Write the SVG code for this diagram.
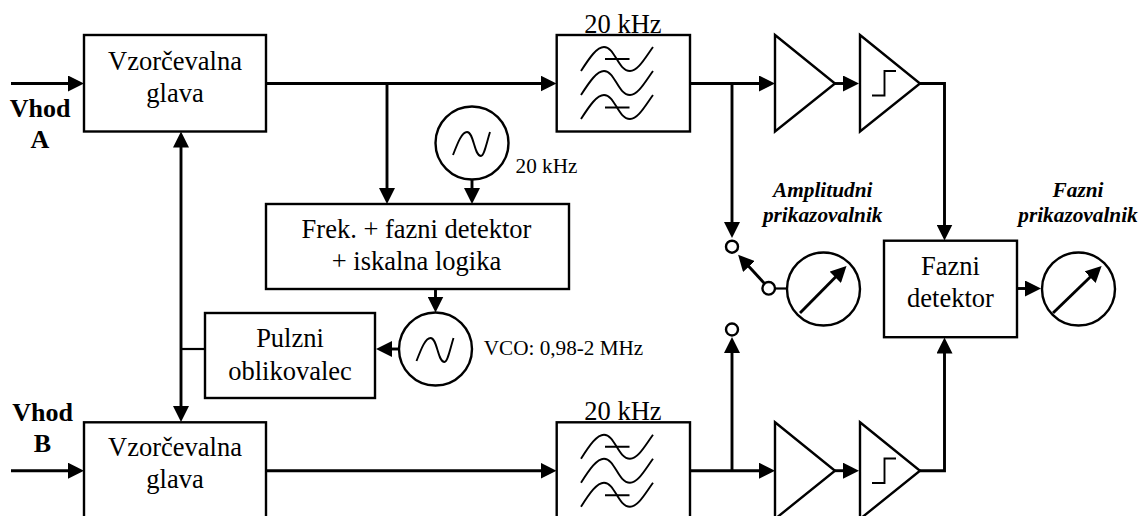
<svg xmlns="http://www.w3.org/2000/svg" width="1141" height="516" viewBox="0 0 1141 516">
<style>
text{font-family:"Liberation Serif","Times New Roman",serif;fill:#000;text-anchor:middle}
.t{font-size:26.5px}
.s{font-size:21.2px}
.b{font-size:26px;font-weight:bold}
.i{font-size:21.3px;font-weight:bold;font-style:italic}
.sh{fill:#fff;stroke:#000;stroke-width:2.4}
.c{fill:none;stroke:#000;stroke-width:2.9}
.th{fill:none;stroke:#000;stroke-width:2.2}
.w{fill:none;stroke:#000;stroke-width:1.9}
</style>
<defs>
<marker id="a" markerUnits="userSpaceOnUse" markerWidth="16" markerHeight="16" viewBox="0 0 16 16" refX="11" refY="8" orient="auto"><polygon points="0,0 16,8 0,16" fill="#000"/></marker>
<path id="sine" d="M581 71C590 57 597 47 604 47C615 47 618 71 630 71C638 71 645 58 653 47"/>
<path id="osc" d="M0 23C5 10 9 0 14 0C21 0 21 24 28 24C31 24 33 13 37 0"/>
</defs>
<g id="connectors">
<path class="c" d="M11 83.5H79" marker-end="url(#a)"/>
<path class="c" d="M11 470.700H79" marker-end="url(#a)"/>
<path class="c" d="M266 83.500H551.500" marker-end="url(#a)"/>
<path class="c" d="M266 470.700H551.500" marker-end="url(#a)"/>
<path class="c" d="M387 83.500V199" marker-end="url(#a)"/>
<path class="c" d="M472 179V199" marker-end="url(#a)"/>
<path class="c" d="M435.500 289V307.500" marker-end="url(#a)"/>
<path class="c" d="M399 349H381" marker-end="url(#a)"/>
<path class="c" d="M181 349V136.500" marker-end="url(#a)"/>
<path class="c" d="M181 349V417" marker-end="url(#a)"/>
<path class="th" d="M181 349H205"/>
<path class="c" d="M690 83.500H770" marker-end="url(#a)"/>
<path class="c" d="M690 470.700H770" marker-end="url(#a)"/>
<path class="c" d="M835 83.500H854" marker-end="url(#a)"/>
<path class="c" d="M835 470.700H854" marker-end="url(#a)"/>
<path class="c" d="M732 83.500V233" marker-end="url(#a)"/>
<path class="c" d="M732 470.700V342" marker-end="url(#a)"/>
<path class="c" d="M920 83.500H944.500V235.500" marker-end="url(#a)"/>
<path class="c" d="M920 470.700H944.500V342.500" marker-end="url(#a)"/>
<path class="c" d="M1017 288.500H1036" marker-end="url(#a)"/>
<path class="c" d="M764.500 283.500L741.500 258.500" marker-end="url(#a)"/>
<path class="th" d="M775 288.500H787"/>
</g>
<g id="vhod-a"><text class="b" x="40" y="116.700">Vhod</text><text class="b" x="40" y="148">A</text></g>
<g id="vhod-b"><text class="b" x="42.500" y="420.700">Vhod</text><text class="b" x="42.500" y="451.700">B</text></g>
<g id="glava-a"><rect class="sh" x="84" y="35" width="182" height="96.500"/><text class="t" x="175" y="70">Vzorčevalna</text><text class="t" x="175" y="102">glava</text></g>
<g id="glava-b"><rect class="sh" x="84" y="422.300" width="182" height="97"/><text class="t" x="175" y="456">Vzorčevalna</text><text class="t" x="175" y="487.500">glava</text></g>
<g id="filter-a"><rect class="sh" x="556.700" y="35" width="133.300" height="96.500"/><text class="t" x="623" y="32.500">20 kHz</text>
<use href="#sine" class="w"/><use href="#sine" class="w" y="24"/><use href="#sine" class="w" y="48"/><path class="w" d="M605 59H629.500M605 107.500H629.500"/></g>
<g id="filter-b"><rect class="sh" x="556.700" y="422.300" width="133.300" height="97"/><text class="t" x="623" y="420">20 kHz</text>
<g transform="translate(0 387.700)"><use href="#sine" class="w"/><use href="#sine" class="w" y="24"/><use href="#sine" class="w" y="48"/><path class="w" d="M605 59H629.500M605 107.500H629.500"/></g></g>
<g id="amp-a"><polygon class="sh" points="775,35 835,83.500 775,131.500"/></g>
<g id="lim-a"><polygon class="sh" points="860,35 920,83.500 860,131.500"/><path class="w" d="M872 95.500H884.500V71H896"/></g>
<g id="amp-b"><polygon class="sh" points="775,422.300 835,470.700 775,519"/></g>
<g id="lim-b"><polygon class="sh" points="860,422.300 920,470.700 860,519"/><path class="w" d="M872 483H884.500V458.500H896"/></g>
<g id="osc-20"><circle class="sh" cx="472" cy="143" r="36.500"/><use href="#osc" class="w" x="453" y="132"/><text class="s" x="546.500" y="173">20 kHz</text></g>
<g id="vco"><circle class="sh" cx="435.500" cy="349" r="36.500"/><use href="#osc" class="w" x="416.500" y="338"/><text class="s" x="563.500" y="355">VCO: 0,98-2 MHz</text></g>
<g id="detektor"><rect class="sh" x="266" y="204" width="303" height="85"/><text class="t" x="416.500" y="238">Frek. + fazni detektor</text><text class="t" x="416.500" y="270">+ iskalna logika</text></g>
<g id="pulzni"><rect class="sh" x="205" y="313" width="170" height="85"/><text class="t" x="290" y="347">Pulzni</text><text class="t" x="290" y="380">oblikovalec</text></g>
<g id="fazni-det"><rect class="sh" x="884" y="240.700" width="133" height="96.500"/><text class="t" x="950.500" y="275">Fazni</text><text class="t" x="950.500" y="306.700">detektor</text></g>
<g id="sw-1"><circle class="sh" cx="732" cy="246.700" r="6"/></g>
<g id="sw-2"><circle class="sh" cx="732" cy="329.500" r="6"/></g>
<g id="sw-p"><circle class="sh" cx="768.700" cy="288.300" r="6.300"/></g>
<g id="meter-a"><circle class="sh" cx="823.500" cy="289" r="36.500"/><path class="c" d="M800 313L843 269.500" marker-end="url(#a)"/><text class="i" x="822.700" y="196.700">Amplitudni</text><text class="i" x="822.700" y="221.700">prikazovalnik</text></g>
<g id="meter-b"><circle class="sh" cx="1078.500" cy="289" r="36.500"/><path class="c" d="M1053 313L1098 269.500" marker-end="url(#a)"/><text class="i" x="1078" y="196.700">Fazni</text><text class="i" x="1078" y="221.700">prikazovalnik</text></g>
</svg>
